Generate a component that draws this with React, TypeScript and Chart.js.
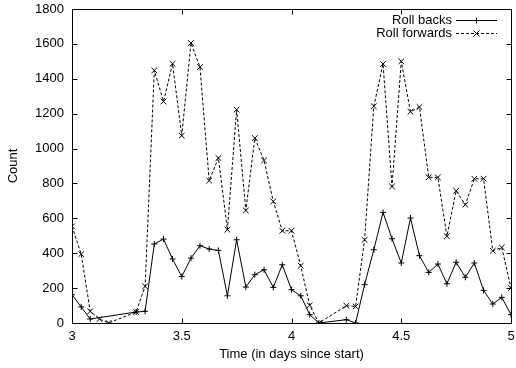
import React, { useEffect, useRef } from "react";
import { Chart, registerables } from "chart.js";

Chart.register(...registerables);

// Time in days since start (hourly samples)
const backTimes = [
  3.0, 3.042, 3.083, 3.292, 3.333, 3.375, 3.417, 3.458, 3.5, 3.542, 3.583, 3.625,
  3.667, 3.708, 3.75, 3.792, 3.833, 3.875, 3.917, 3.958, 4.0, 4.042, 4.083, 4.125,
  4.25, 4.292, 4.333, 4.375, 4.417, 4.458, 4.5, 4.542, 4.583, 4.625, 4.667, 4.708,
  4.75, 4.792, 4.833, 4.875, 4.917, 4.958, 5.0,
];
const rollBacks = [
  162, 92, 23, 63, 67, 453, 481, 367, 266, 372, 443, 424,
  416, 156, 477, 206, 277, 305, 204, 334, 191, 156, 48, 0,
  19, 0, 220, 420, 634, 483, 344, 602, 386, 290, 338, 225,
  348, 262, 344, 187, 109, 147, 48,
];

const fwdTimes = [
  3.0, 3.042, 3.083, 3.125, 3.167, 3.292, 3.333, 3.375, 3.417, 3.458, 3.5, 3.542,
  3.583, 3.625, 3.667, 3.708, 3.75, 3.792, 3.833, 3.875, 3.917, 3.958, 4.0, 4.042,
  4.083, 4.125, 4.25, 4.292, 4.333, 4.375, 4.417, 4.458, 4.5, 4.542, 4.583, 4.625,
  4.667, 4.708, 4.75, 4.792, 4.833, 4.875, 4.917, 4.958, 5.0,
];
const rollForwards = [
  554, 395, 67, 23, 0, 63, 210, 1448, 1270, 1486, 1074, 1605,
  1467, 816, 946, 535, 1223, 645, 1060, 932, 697, 529, 529, 328,
  101, 0, 99, 95, 477, 1242, 1485, 783, 1500, 1211, 1238, 835,
  835, 497, 758, 678, 827, 827, 414, 433, 200,
];

const seriesNames = ["Roll backs", "Roll forwards"];
const xTicks = [3, 3.5, 4, 4.5, 5];
const yTicks = [0, 200, 400, 600, 800, 1000, 1200, 1400, 1600, 1800];
const xTitle = "Time (in days since start)";
const yTitle = "Count";

const FONT = '"Liberation Sans", Arial, Helvetica, sans-serif';

const framePlugin = {
  id: "gnuplotFrame",
  afterDraw(chart: any) {
    const ctx = chart.ctx;
    const { left, right, top, bottom } = chart.chartArea;
    const xs = chart.scales.x;
    const ys = chart.scales.y;
    ctx.save();
    ctx.strokeStyle = "#000";
    ctx.lineWidth = 1;
    ctx.setLineDash([]);
    ctx.beginPath();
    const L = Math.round(left) + 0.5;
    const R = Math.round(right) + 0.5;
    const T = Math.round(top) + 0.5;
    const B = Math.round(bottom) + 0.5;
    ctx.rect(L, T, R - L, B - T);
    const tl = 5;
    for (const v of yTicks) {
      const y = Math.round(ys.getPixelForValue(v)) + 0.5;
      ctx.moveTo(L, y);
      ctx.lineTo(L + tl, y);
      ctx.moveTo(R, y);
      ctx.lineTo(R - tl, y);
    }
    for (const v of xTicks) {
      const x = Math.round(xs.getPixelForValue(v)) + 0.5;
      ctx.moveTo(x, B);
      ctx.lineTo(x, B - tl);
      ctx.moveTo(x, T);
      ctx.lineTo(x, T + tl);
    }
    ctx.stroke();

    // Legend (gnuplot style: text right-aligned, sample line to its right)
    ctx.font = `13px ${FONT}`;
    ctx.fillStyle = "#000";
    ctx.textAlign = "right";
    ctx.textBaseline = "middle";
    const entries = [
      { label: seriesNames[0], y: 20, dash: [] as number[], style: "plus" },
      { label: seriesNames[1], y: 33, dash: [3, 2], style: "x" },
    ];
    for (const e of entries) {
      ctx.fillText(e.label, 452, e.y + 0.5);
      const yy = e.y + 0.5;
      ctx.beginPath();
      ctx.setLineDash(e.dash);
      ctx.moveTo(456, yy);
      ctx.lineTo(497, yy);
      ctx.stroke();
      ctx.setLineDash([]);
      ctx.beginPath();
      const cx = 476.5;
      if (e.style === "plus") {
        ctx.moveTo(cx - 3, yy);
        ctx.lineTo(cx + 3, yy);
        ctx.moveTo(cx, yy - 3);
        ctx.lineTo(cx, yy + 3);
      } else {
        ctx.moveTo(cx - 3, yy - 3);
        ctx.lineTo(cx + 3, yy + 3);
        ctx.moveTo(cx - 3, yy + 3);
        ctx.lineTo(cx + 3, yy - 3);
      }
      ctx.stroke();
    }
    ctx.restore();
  },
};

const zeroPad = (s: any) => {
  s.paddingTop = 0;
  s.paddingBottom = 0;
  s.paddingLeft = 0;
  s.paddingRight = 0;
};

export default function App() {
  const ref = useRef<HTMLCanvasElement | null>(null);

  useEffect(() => {
    document.body.style.margin = "0";
    const canvas = ref.current;
    if (!canvas) return;
    const backData = backTimes.map((t, i) => ({ x: t, y: rollBacks[i] }));
    const fwdData = fwdTimes.map((t, i) => ({ x: t, y: rollForwards[i] }));

    const chart = new Chart(canvas, {
      type: "line",
      data: {
        datasets: [
          {
            label: seriesNames[0],
            data: backData,
            borderColor: "#000",
            backgroundColor: "#000",
            borderWidth: 1,
            pointStyle: "cross",
            pointRadius: 3,
            pointBorderWidth: 1,
            pointBorderColor: "#000",
            tension: 0,
            fill: false,
          },
          {
            label: seriesNames[1],
            data: fwdData,
            borderColor: "#000",
            backgroundColor: "#000",
            borderWidth: 1,
            borderDash: [3, 2],
            pointStyle: "crossRot",
            pointRadius: 4,
            pointBorderWidth: 1,
            pointBorderColor: "#000",
            tension: 0,
            fill: false,
          },
        ],
      },
      options: {
        animation: false,
        responsive: false,
        maintainAspectRatio: false,
        devicePixelRatio: 1,
        layout: { padding: { top: 9, right: 4, left: 0, bottom: 0 } },
        plugins: {
          legend: { display: false },
          tooltip: { enabled: false },
        },
        font: { family: FONT, size: 13 },
        scales: {
          x: {
            type: "linear",
            min: 3,
            max: 5,
            grid: { display: false, drawTicks: false },
            border: { display: false },
            afterFit: (s: any) => {
              s.height = 45;
              zeroPad(s);
            },
            afterBuildTicks: (s: any) => {
              s.ticks = xTicks.map((v) => ({ value: v }));
            },
            ticks: {
              color: "#000",
              padding: 6,
              font: { family: FONT, size: 13 },
              maxRotation: 0,
              autoSkip: false,
              callback: (v: any) => String(v),
            },
            title: {
              display: true,
              text: xTitle,
              color: "#000",
              font: { family: FONT, size: 13 },
              padding: { top: 0, bottom: 6 },
            },
          },
          y: {
            type: "linear",
            min: 0,
            max: 1800,
            grid: { display: false, drawTicks: false },
            border: { display: false },
            afterFit: (s: any) => {
              s.width = 72;
              zeroPad(s);
            },
            afterBuildTicks: (s: any) => {
              s.ticks = yTicks.map((v) => ({ value: v }));
            },
            ticks: {
              color: "#000",
              padding: 8,
              font: { family: FONT, size: 13 },
              autoSkip: false,
              callback: (v: any) => String(v),
            },
            title: {
              display: true,
              text: yTitle,
              color: "#000",
              font: { family: FONT, size: 13 },
              padding: { top: 6, bottom: 0 },
            },
          },
        },
      },
      plugins: [framePlugin],
    });
    return () => chart.destroy();
  }, []);

  return (
    <div style={{ width: 516, height: 368 }}>
      <canvas ref={ref} width={516} height={368} style={{ display: "block" }} />
    </div>
  );
}
